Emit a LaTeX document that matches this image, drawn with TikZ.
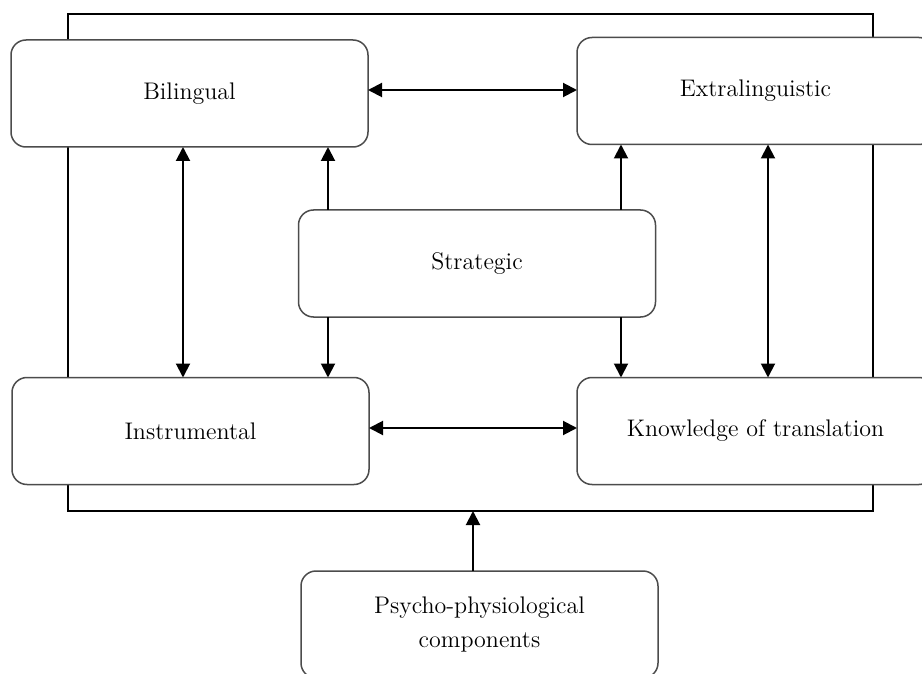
\documentclass[tikz,border=0pt]{standalone}
\usetikzlibrary{arrows.meta}
\begin{document}
\begin{tikzpicture}[x=0.5pt,y=-0.5pt,
  comp/.style={draw=black!70, line width=0.75pt, fill=white, rounded corners=7.5pt,
    minimum width=178.5pt, minimum height=53.5pt, inner sep=0pt, outer sep=0pt,
    align=center, font=\fontsize{12}{17}\selectfont},
  framebox/.style={draw=black, line width=0.75pt, minimum width=402.5pt, minimum height=248.5pt, inner sep=0pt, outer sep=0pt},
  arr/.style={line width=1pt, -{Triangle[width=7pt,length=7pt]}},
  darr/.style={line width=1pt, {Triangle[width=7pt,length=7pt]}-{Triangle[width=7pt,length=7pt]}}]
\clip (0,0) rectangle (922,674);
\useasboundingbox (0,0) rectangle (922,674);
\fill[white] (0,0) rectangle (922,674);
\node[framebox] (frame) at (470.5,262.5) {};
\node[comp] (bil) at (189.5,93.5) {Bilingual};
\node[comp] (ext) at (755.5,91) {Extralinguistic};
\node[comp] (strat) at (477,263.5) {Strategic};
\node[comp] (ins) at (190.5,431) {Instrumental};
\node[comp] (kno) at (755.5,431) {Knowledge of translation};
\node[comp] (psy) at (479.5,624.5) {Psycho-physiological\\components};
\coordinate (yt) at (0,90);
\coordinate (yb) at (0,428);
\coordinate (xl) at (183,0);
\coordinate (xr) at (768,0);
\coordinate (xsl) at (328,0);
\coordinate (xsr) at (621,0);
\coordinate (xp) at (473,0);
\draw[darr] (bil.east |- yt) -- (ext.west |- yt);
\draw[darr] (ins.east |- yb) -- (kno.west |- yb);
\draw[darr] (bil.south -| xl) -- (ins.north -| xl);
\draw[darr] (ext.south -| xr) -- (kno.north -| xr);
\draw[arr] (strat.north -| xsl) -- (bil.south -| xsl);
\draw[arr] (strat.north -| xsr) -- (ext.south -| xsr);
\draw[arr] (strat.south -| xsl) -- (ins.north -| xsl);
\draw[arr] (strat.south -| xsr) -- (kno.north -| xsr);
\draw[arr] (psy.north -| xp) -- (frame.south -| xp);
\end{tikzpicture}
\end{document}
